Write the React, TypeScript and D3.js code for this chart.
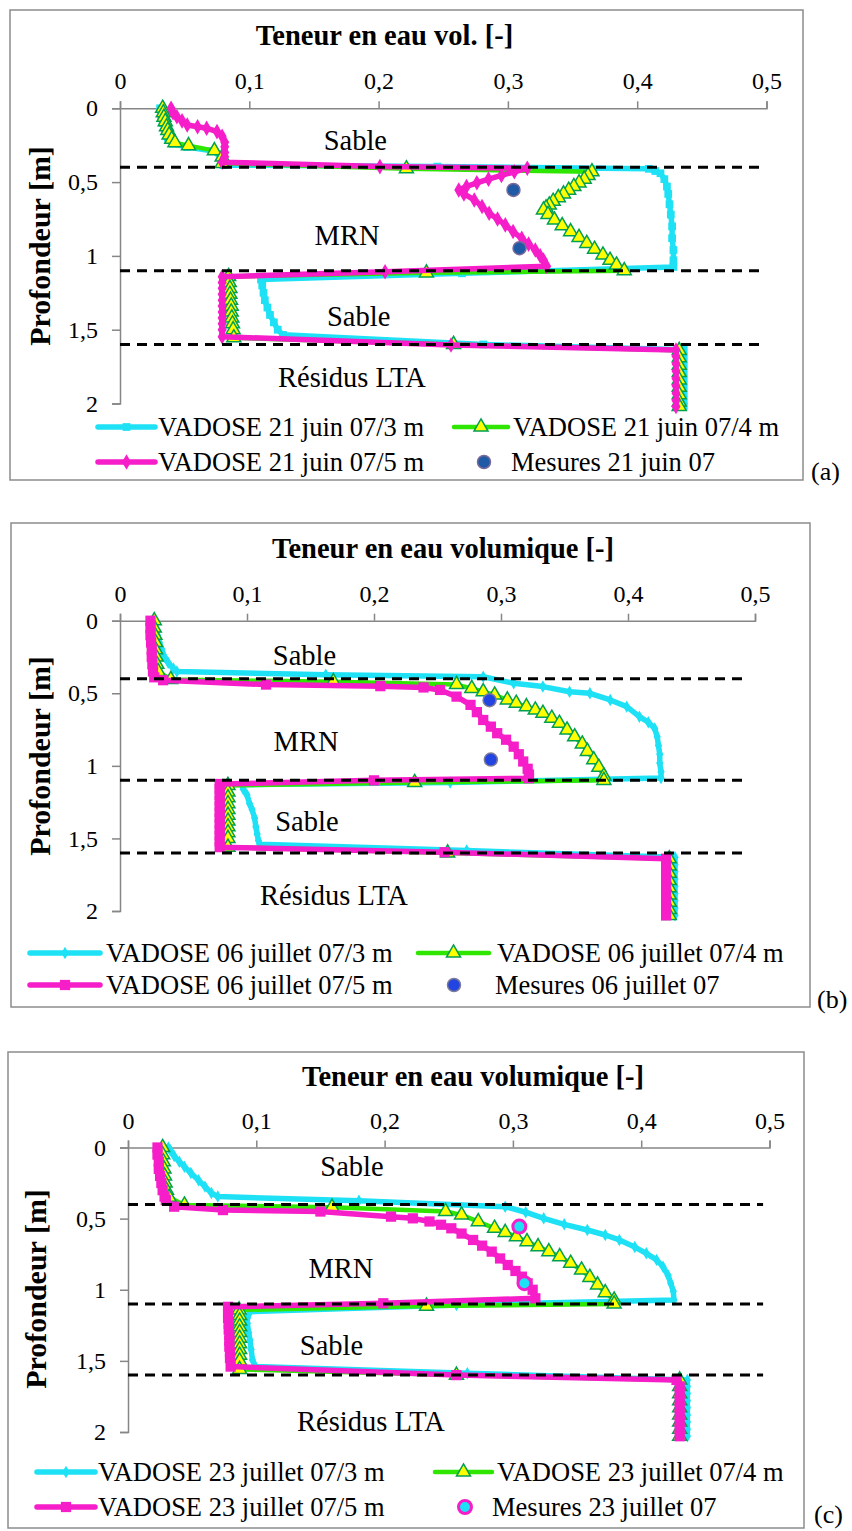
import React, { useEffect, useRef } from 'react';
import * as d3 from 'd3';

type Pt = [number, number]; // [teneur en eau, profondeur (m)]

const xTicks = [0, 0.1, 0.2, 0.3, 0.4, 0.5];
const yTicks = [0, 0.5, 1, 1.5, 2];
const boundaries = [0.4, 1.1, 1.6];
const boundaryExtent = [0, 0.495];
const layerNames = ['Sable', 'MRN', 'Sable', 'Résidus LTA'];
const titles = ['Teneur en eau vol. [-]', 'Teneur en eau volumique [-]', 'Teneur en eau volumique [-]'];
const dates = ['21 juin 07', '06 juillet 07', '23 juillet 07'];
const depthLabels = ['3 m', '4 m', '5 m'];
const tags = ['(a)', '(b)', '(c)'];

// (a) 21 juin 07
const a3m: Pt[] = [
  [0.031, 0], [0.032, 0.05], [0.033, 0.1], [0.035, 0.15], [0.037, 0.2], [0.041, 0.24], [0.052, 0.262],
  [0.072, 0.29], [0.078, 0.33], [0.079, 0.37], [0.08, 0.385], [0.2455, 0.395], [0.409, 0.41], [0.414, 0.425],
  [0.418, 0.44], [0.421, 0.48], [0.423, 0.53], [0.424, 0.58], [0.425, 0.65], [0.426, 0.72], [0.427, 0.8],
  [0.427, 0.88], [0.428, 0.96], [0.428, 1.03], [0.428, 1.075], [0.2645, 1.118], [0.109, 1.16], [0.11, 1.2],
  [0.111, 1.25], [0.112, 1.3], [0.114, 1.35], [0.116, 1.4], [0.119, 1.45], [0.122, 1.5], [0.126, 1.535],
  [0.281, 1.6], [0.436, 1.635], [0.436, 1.68], [0.436, 1.73], [0.436, 1.78], [0.436, 1.83], [0.436, 1.88],
  [0.436, 1.93], [0.436, 1.98], [0.436, 2.02],
];
const a4m: Pt[] = [
  [0.033, 0], [0.0335, 0.03], [0.034, 0.06], [0.035, 0.09], [0.036, 0.125], [0.037, 0.15], [0.038, 0.18],
  [0.04, 0.21], [0.0425, 0.233], [0.053, 0.253], [0.073, 0.287], [0.079, 0.33], [0.079, 0.373], [0.2215, 0.41],
  [0.365, 0.43], [0.362, 0.455], [0.359, 0.48], [0.355, 0.505], [0.351, 0.53], [0.347, 0.555], [0.343, 0.58],
  [0.339, 0.605], [0.335, 0.63], [0.332, 0.655], [0.3295, 0.675], [0.3275, 0.689], [0.331, 0.72], [0.336, 0.757],
  [0.342, 0.795], [0.3485, 0.836], [0.355, 0.875], [0.361, 0.915], [0.367, 0.955], [0.3735, 0.994], [0.379, 1.03],
  [0.384, 1.062], [0.39, 1.1], [0.237, 1.115], [0.084, 1.14], [0.0845, 1.18], [0.085, 1.22], [0.085, 1.26],
  [0.0855, 1.3], [0.086, 1.34], [0.086, 1.38], [0.0865, 1.42], [0.087, 1.46], [0.0875, 1.5], [0.088, 1.555],
  [0.258, 1.6], [0.4325, 1.64], [0.4325, 1.69], [0.4325, 1.74], [0.4325, 1.79], [0.4325, 1.84], [0.4325, 1.89],
  [0.4325, 1.94], [0.4325, 1.99], [0.4325, 2.02],
];
const a5m: Pt[] = [
  [0.0395, 0], [0.041, 0.03], [0.044, 0.057], [0.048, 0.085], [0.052, 0.113], [0.06, 0.125], [0.067, 0.135],
  [0.075, 0.158], [0.079, 0.19], [0.081, 0.23], [0.081, 0.26], [0.081, 0.3], [0.081, 0.328], [0.079, 0.365],
  [0.201, 0.395], [0.315, 0.406], [0.305, 0.43], [0.295, 0.455], [0.285, 0.48], [0.276, 0.505], [0.268, 0.53],
  [0.262, 0.553], [0.266, 0.58], [0.274, 0.621], [0.28, 0.665], [0.2855, 0.711], [0.292, 0.75], [0.298, 0.79],
  [0.304, 0.835], [0.3107, 0.881], [0.316, 0.92], [0.3212, 0.96], [0.325, 1.0], [0.3275, 1.028], [0.33, 1.07],
  [0.205, 1.107], [0.079, 1.141], [0.079, 1.18], [0.079, 1.22], [0.079, 1.26], [0.079, 1.3], [0.079, 1.34],
  [0.079, 1.38], [0.079, 1.42], [0.079, 1.46], [0.079, 1.5], [0.079, 1.547], [0.256, 1.604], [0.43, 1.637],
  [0.43, 1.68], [0.43, 1.73], [0.43, 1.78], [0.43, 1.83], [0.43, 1.88], [0.43, 1.93], [0.43, 1.98], [0.43, 2.02],
];
const aMes: Pt[] = [[0.3043, 0.553], [0.309, 0.948]];

// (b) 06 juillet 07
const b3m: Pt[] = [
  [0.0274, 0], [0.028, 0.05], [0.0295, 0.1], [0.031, 0.15], [0.033, 0.2], [0.035, 0.25], [0.038, 0.29],
  [0.042, 0.33], [0.0448, 0.35], [0.162, 0.372], [0.286, 0.386], [0.31, 0.431], [0.333, 0.454], [0.354, 0.489],
  [0.37, 0.5], [0.386, 0.546], [0.399, 0.592], [0.409, 0.661], [0.416, 0.7], [0.421, 0.742], [0.423, 0.8],
  [0.424, 0.86], [0.425, 0.92], [0.425, 0.98], [0.426, 1.04], [0.426, 1.083], [0.26, 1.115], [0.096, 1.13],
  [0.097, 1.16], [0.1, 1.2], [0.102, 1.26], [0.104, 1.3], [0.106, 1.36], [0.107, 1.42], [0.108, 1.47],
  [0.109, 1.515], [0.11, 1.54], [0.273, 1.584], [0.437, 1.63], [0.437, 1.68], [0.437, 1.73], [0.437, 1.78],
  [0.437, 1.83], [0.437, 1.88], [0.437, 1.93], [0.437, 1.98], [0.437, 2.03],
];
const b4m: Pt[] = [
  [0.027, 0], [0.027, 0.05], [0.0275, 0.1], [0.028, 0.15], [0.028, 0.2], [0.0285, 0.25], [0.029, 0.3],
  [0.03, 0.35], [0.04, 0.405], [0.168, 0.42], [0.265, 0.44], [0.277, 0.466], [0.286, 0.489], [0.295, 0.512],
  [0.305, 0.546], [0.312, 0.569], [0.32, 0.592], [0.327, 0.615], [0.333, 0.638], [0.34, 0.672], [0.346, 0.707],
  [0.352, 0.753], [0.358, 0.8], [0.364, 0.85], [0.368, 0.9], [0.373, 0.958], [0.377, 1.01], [0.381, 1.07],
  [0.381, 1.1], [0.232, 1.115], [0.085, 1.135], [0.085, 1.18], [0.085, 1.22], [0.085, 1.26], [0.085, 1.3],
  [0.085, 1.34], [0.085, 1.38], [0.085, 1.42], [0.085, 1.46], [0.085, 1.5], [0.085, 1.56], [0.258, 1.6],
  [0.4325, 1.64], [0.4325, 1.69], [0.4325, 1.74], [0.4325, 1.79], [0.4325, 1.84], [0.4325, 1.89],
  [0.4325, 1.94], [0.4325, 1.99], [0.4325, 2.03],
];
const b5m: Pt[] = [
  [0.024, 0], [0.024, 0.05], [0.024, 0.1], [0.0245, 0.15], [0.025, 0.2], [0.025, 0.25], [0.0255, 0.3],
  [0.026, 0.35], [0.027, 0.39], [0.034, 0.41], [0.115, 0.44], [0.205, 0.451], [0.239, 0.46], [0.252, 0.477],
  [0.265, 0.523], [0.276, 0.58], [0.281, 0.63], [0.286, 0.684], [0.292, 0.73], [0.297, 0.775], [0.304, 0.82],
  [0.31, 0.868], [0.314, 0.92], [0.3175, 0.97], [0.321, 1.02], [0.322, 1.06], [0.322, 1.085], [0.2, 1.1],
  [0.0785, 1.125], [0.0785, 1.16], [0.0785, 1.2], [0.0785, 1.24], [0.0785, 1.28], [0.0785, 1.32],
  [0.0785, 1.36], [0.0785, 1.4], [0.0785, 1.44], [0.0785, 1.48], [0.0785, 1.52], [0.0785, 1.56],
  [0.2556, 1.595], [0.43, 1.64], [0.43, 1.69], [0.43, 1.74], [0.43, 1.79], [0.43, 1.84], [0.43, 1.89],
  [0.43, 1.94], [0.43, 1.99], [0.43, 2.03],
];
const bMes: Pt[] = [[0.291, 0.548], [0.292, 0.957]];

// (c) 23 juillet 07
const c3m: Pt[] = [
  [0.0315, 0], [0.033, 0.02], [0.036, 0.06], [0.04, 0.1], [0.044, 0.135], [0.049, 0.18], [0.055, 0.23],
  [0.06, 0.275], [0.065, 0.32], [0.07, 0.345], [0.18, 0.375], [0.294, 0.416], [0.31, 0.455], [0.324, 0.498],
  [0.34, 0.54], [0.358, 0.58], [0.372, 0.615], [0.383, 0.65], [0.395, 0.7], [0.404, 0.744], [0.412, 0.79],
  [0.417, 0.838], [0.421, 0.9], [0.423, 0.954], [0.425, 1.01], [0.4255, 1.072], [0.256, 1.107], [0.095, 1.154],
  [0.093, 1.2], [0.093, 1.235], [0.094, 1.3], [0.095, 1.353], [0.096, 1.42], [0.097, 1.493], [0.0993, 1.54],
  [0.2645, 1.587], [0.436, 1.634], [0.436, 1.68], [0.436, 1.73], [0.436, 1.78], [0.436, 1.83], [0.436, 1.88],
  [0.436, 1.93], [0.436, 1.98], [0.436, 2.03],
];
const c4m: Pt[] = [
  [0.027, 0], [0.027, 0.05], [0.0275, 0.1], [0.028, 0.15], [0.0285, 0.2], [0.029, 0.25], [0.03, 0.3],
  [0.032, 0.35], [0.044, 0.404], [0.159, 0.42], [0.2475, 0.45], [0.26, 0.474], [0.273, 0.521], [0.2857, 0.568],
  [0.294, 0.597], [0.3027, 0.627], [0.311, 0.662], [0.3196, 0.697], [0.328, 0.732], [0.3365, 0.767],
  [0.345, 0.814], [0.3535, 0.861], [0.36, 0.913], [0.366, 0.966], [0.372, 1.02], [0.3789, 1.072],
  [0.3789, 1.1], [0.2327, 1.115], [0.0866, 1.142], [0.087, 1.18], [0.087, 1.22], [0.087, 1.26], [0.087, 1.3],
  [0.087, 1.34], [0.087, 1.38], [0.087, 1.42], [0.087, 1.46], [0.087, 1.5], [0.087, 1.56], [0.256, 1.6],
  [0.43, 1.634], [0.43, 1.68], [0.43, 1.73], [0.43, 1.78], [0.43, 1.83], [0.43, 1.88], [0.43, 1.93],
  [0.43, 1.98], [0.43, 2.03],
];
const c5m: Pt[] = [
  [0.023, 0], [0.023, 0.05], [0.024, 0.1], [0.024, 0.15], [0.025, 0.2], [0.026, 0.25], [0.027, 0.3],
  [0.0285, 0.345], [0.0295, 0.37], [0.036, 0.416], [0.074, 0.44], [0.15, 0.45], [0.205, 0.486], [0.222, 0.498],
  [0.235, 0.52], [0.244, 0.543], [0.252, 0.568], [0.26, 0.605], [0.269, 0.65], [0.276, 0.69], [0.2835, 0.732],
  [0.29, 0.78], [0.296, 0.826], [0.302, 0.868], [0.307, 0.908], [0.3115, 0.955], [0.3154, 1.0], [0.3175, 1.06],
  [0.199, 1.095], [0.078, 1.12], [0.078, 1.16], [0.078, 1.2], [0.0785, 1.24], [0.0785, 1.28], [0.079, 1.32],
  [0.079, 1.36], [0.079, 1.4], [0.0795, 1.44], [0.0795, 1.48], [0.08, 1.54], [0.256, 1.6], [0.4276, 1.634],
  [0.43, 1.68], [0.43, 1.73], [0.43, 1.78], [0.43, 1.83], [0.43, 1.88], [0.43, 1.93], [0.43, 1.98], [0.43, 2.03],
];
const cMes: Pt[] = [[0.305, 0.556], [0.309, 0.954]];

const FONT = "'Liberation Serif', 'Times New Roman', serif";
const CYAN = '#1ee1f5';
const GREEN = '#2ee600';
const MAGENTA = '#f51ec8';
const AXIS = '#868686';

interface SeriesStyle {
  data: Pt[];
  color: string;
  width: number;
  symbol: d3.SymbolType;
  size: number;
  fill: string;
  stroke?: string;
  strokeWidth?: number;
}

const cyanSquare = { color: CYAN, width: 5.5, symbol: d3.symbolSquare, size: 60, fill: CYAN };
const cyanDiamond = { color: CYAN, width: 5.5, symbol: d3.symbolDiamond, size: 45, fill: CYAN };
const greenTri = { color: GREEN, width: 4.5, symbol: d3.symbolTriangle, size: 85, fill: '#ffff00', stroke: '#00a050', strokeWidth: 1.5 };
const magDiamond = { color: MAGENTA, width: 5.5, symbol: d3.symbolDiamond, size: 70, fill: MAGENTA };
const magSquare = { color: MAGENTA, width: 5.5, symbol: d3.symbolSquare, size: 105, fill: MAGENTA };

const panels = [
  {
    series: [{ ...cyanSquare, data: a3m }, { ...greenTri, data: a4m }, { ...magDiamond, data: a5m }] as SeriesStyle[],
    mes: aMes,
    mesStyle: { fill: '#1f5aa6', stroke: '#7a6a9a', strokeWidth: 1.5 },
    frame: [10, 10, 803, 480],
    xRange: [120, 766.5], yRange: [108.3, 403.5],
    titleX: 384.5, titleY: 35,
    yLabelX: 40, yLabelY: 246,
    tagX: 811, tagY: 471,
    layerPos: [[0.182, 0.215], [0.1756, 0.858], [0.1846, 1.412], [0.1794, 1.82]] as Pt[],
    rows: [427, 462],
    col1: { line: [98, 155], text: 158 },
    col2: { line: [454, 508], text: 513 },
    dotX: 484, mesTextX: 511,
  },
  {
    series: [{ ...cyanDiamond, data: b3m }, { ...greenTri, data: b4m }, { ...magSquare, data: b5m }] as SeriesStyle[],
    mes: bMes,
    mesStyle: { fill: '#2244e0', stroke: '#7a7a9a', strokeWidth: 1.5 },
    frame: [11, 523, 810, 1007],
    xRange: [120, 755], yRange: [620.7, 911],
    titleX: 443, titleY: 548.3,
    yLabelX: 40, yLabelY: 756,
    tagX: 817, tagY: 999,
    layerPos: [[0.1453, 0.236], [0.1465, 0.833], [0.1472, 1.384], [0.1685, 1.889]] as Pt[],
    rows: [953, 985],
    col1: { line: [30, 100], text: 106 },
    col2: { line: [418, 489], text: 497 },
    dotX: 454, mesTextX: 495,
  },
  {
    series: [{ ...cyanDiamond, data: c3m }, { ...greenTri, data: c4m }, { ...magSquare, data: c5m }] as SeriesStyle[],
    mes: cMes,
    mesStyle: { fill: CYAN, stroke: MAGENTA, strokeWidth: 3 },
    frame: [8, 1052, 804, 1528],
    xRange: [128, 769.5], yRange: [1147.5, 1432],
    titleX: 473, titleY: 1076.7,
    yLabelX: 36, yLabelY: 1289,
    tagX: 814, tagY: 1514,
    layerPos: [[0.1746, 0.135], [0.166, 0.847], [0.1586, 1.388], [0.1894, 1.928]] as Pt[],
    rows: [1472, 1507],
    col1: { line: [37, 95], text: 98 },
    col2: { line: [435, 492], text: 497 },
    dotX: 465, mesTextX: 492,
  },
];

const fmt = (d: d3.NumberValue) => String(d).replace('.', ',');

function drawPanel(svg: d3.Selection<SVGSVGElement, unknown, null, undefined>, p: typeof panels[0], i: number) {
  const g = svg.append('g');
  const [fx0, fy0, fx1, fy1] = p.frame;
  g.append('rect')
    .attr('x', fx0).attr('y', fy0)
    .attr('width', fx1 - fx0).attr('height', fy1 - fy0)
    .attr('fill', '#fff').attr('stroke', '#8c8c8c').attr('stroke-width', 1.5);

  const x = d3.scaleLinear().domain([0, 0.5]).range(p.xRange);
  const y = d3.scaleLinear().domain([0, 2]).range(p.yRange);

  const xa = g.append('g')
    .attr('transform', `translate(0,${y(0)})`)
    .call(d3.axisTop(x).tickValues(xTicks).tickSize(7).tickSizeOuter(7).tickPadding(12).tickFormat(fmt));
  const ya = g.append('g')
    .attr('transform', `translate(${x(0)},0)`)
    .call(d3.axisLeft(y).tickValues(yTicks).tickSize(8).tickSizeOuter(8).tickPadding(14).tickFormat(fmt));
  [xa, ya].forEach(a => {
    a.select('.domain').attr('stroke', AXIS).attr('stroke-width', 1.5);
    a.selectAll('.tick line').attr('stroke', AXIS).attr('stroke-width', 1.5);
    a.selectAll('.tick text').attr('font-family', FONT).attr('font-size', 24).attr('fill', '#000');
  });

  // simulated profiles
  const line = d3.line<Pt>().x(d => x(d[0])).y(d => y(d[1]));
  p.series.forEach(s => {
    g.append('path').datum(s.data)
      .attr('d', line).attr('fill', 'none')
      .attr('stroke', s.color).attr('stroke-width', s.width)
      .attr('stroke-linejoin', 'round');
    g.append('g').selectAll('path').data(s.data).join('path')
      .attr('transform', d => `translate(${x(d[0])},${y(d[1])})`)
      .attr('d', d3.symbol().type(s.symbol).size(s.size)())
      .attr('fill', s.fill)
      .attr('stroke', s.stroke || 'none')
      .attr('stroke-width', s.strokeWidth || 0);
  });

  // layer boundaries
  g.selectAll('line.bound').data(boundaries).join('line')
    .attr('class', 'bound')
    .attr('x1', x(boundaryExtent[0])).attr('x2', x(boundaryExtent[1]))
    .attr('y1', d => y(d)).attr('y2', d => y(d))
    .attr('stroke', '#000').attr('stroke-width', 3).attr('stroke-dasharray', '10,7');

  // measurements
  g.selectAll('circle.mes').data(p.mes).join('circle')
    .attr('class', 'mes')
    .attr('cx', d => x(d[0])).attr('cy', d => y(d[1])).attr('r', 6.5)
    .attr('fill', p.mesStyle.fill).attr('stroke', p.mesStyle.stroke).attr('stroke-width', p.mesStyle.strokeWidth);

  // layer names
  g.selectAll('text.layer').data(p.layerPos).join('text')
    .attr('class', 'layer')
    .attr('x', d => x(d[0])).attr('y', d => y(d[1])).attr('dy', '0.34em')
    .attr('text-anchor', 'middle').attr('font-family', FONT).attr('font-size', 28.5)
    .text((_, k) => layerNames[k]);

  // titles
  g.append('text')
    .attr('x', p.titleX).attr('y', p.titleY).attr('dy', '0.34em')
    .attr('text-anchor', 'middle').attr('font-family', FONT).attr('font-size', 28.5).attr('font-weight', 'bold')
    .text(titles[i]);
  g.append('text')
    .attr('transform', `translate(${p.yLabelX},${p.yLabelY}) rotate(-90)`)
    .attr('dy', '0.34em')
    .attr('text-anchor', 'middle').attr('font-family', FONT).attr('font-size', 30).attr('font-weight', 'bold')
    .text('Profondeur [m]');
  g.append('text')
    .attr('x', p.tagX).attr('y', p.tagY).attr('dy', '0.34em')
    .attr('font-family', FONT).attr('font-size', 26)
    .text(tags[i]);

  // legend
  const items = [
    { row: 0, col: p.col1, s: p.series[0], label: `VADOSE ${dates[i]}/${depthLabels[0]}` },
    { row: 0, col: p.col2, s: p.series[1], label: `VADOSE ${dates[i]}/${depthLabels[1]}` },
    { row: 1, col: p.col1, s: p.series[2], label: `VADOSE ${dates[i]}/${depthLabels[2]}` },
  ];
  const lg = g.append('g');
  items.forEach(it => {
    const ly = p.rows[it.row];
    lg.append('line')
      .attr('x1', it.col.line[0]).attr('x2', it.col.line[1]).attr('y1', ly).attr('y2', ly)
      .attr('stroke', it.s.color).attr('stroke-width', it.s.width).attr('stroke-linecap', 'round');
    lg.append('path')
      .attr('transform', `translate(${(it.col.line[0] + it.col.line[1]) / 2},${ly})`)
      .attr('d', d3.symbol().type(it.s.symbol).size(it.s.size)())
      .attr('fill', it.s.fill).attr('stroke', it.s.stroke || 'none').attr('stroke-width', it.s.strokeWidth || 0);
    lg.append('text')
      .attr('x', it.col.text).attr('y', ly).attr('dy', '0.34em')
      .attr('font-family', FONT).attr('font-size', 26.5)
      .text(it.label);
  });
  lg.append('circle')
    .attr('cx', p.dotX).attr('cy', p.rows[1]).attr('r', 6.5)
    .attr('fill', p.mesStyle.fill).attr('stroke', p.mesStyle.stroke).attr('stroke-width', p.mesStyle.strokeWidth);
  lg.append('text')
    .attr('x', p.mesTextX).attr('y', p.rows[1]).attr('dy', '0.34em')
    .attr('font-family', FONT).attr('font-size', 26.5)
    .text(`Mesures ${dates[i]}`);
}

const App: React.FC = () => {
  const svgRef = useRef<SVGSVGElement>(null);

  useEffect(() => {
    if (!svgRef.current) return;
    const svg = d3.select(svgRef.current);
    svg.selectAll('*').remove();
    panels.forEach((p, i) => drawPanel(svg, p, i));
  }, []);

  return (
    <svg
      ref={svgRef}
      width={852}
      height={1531}
      style={{ position: 'absolute', left: 0, top: 0, background: '#fff' }}
    />
  );
};

export default App;
